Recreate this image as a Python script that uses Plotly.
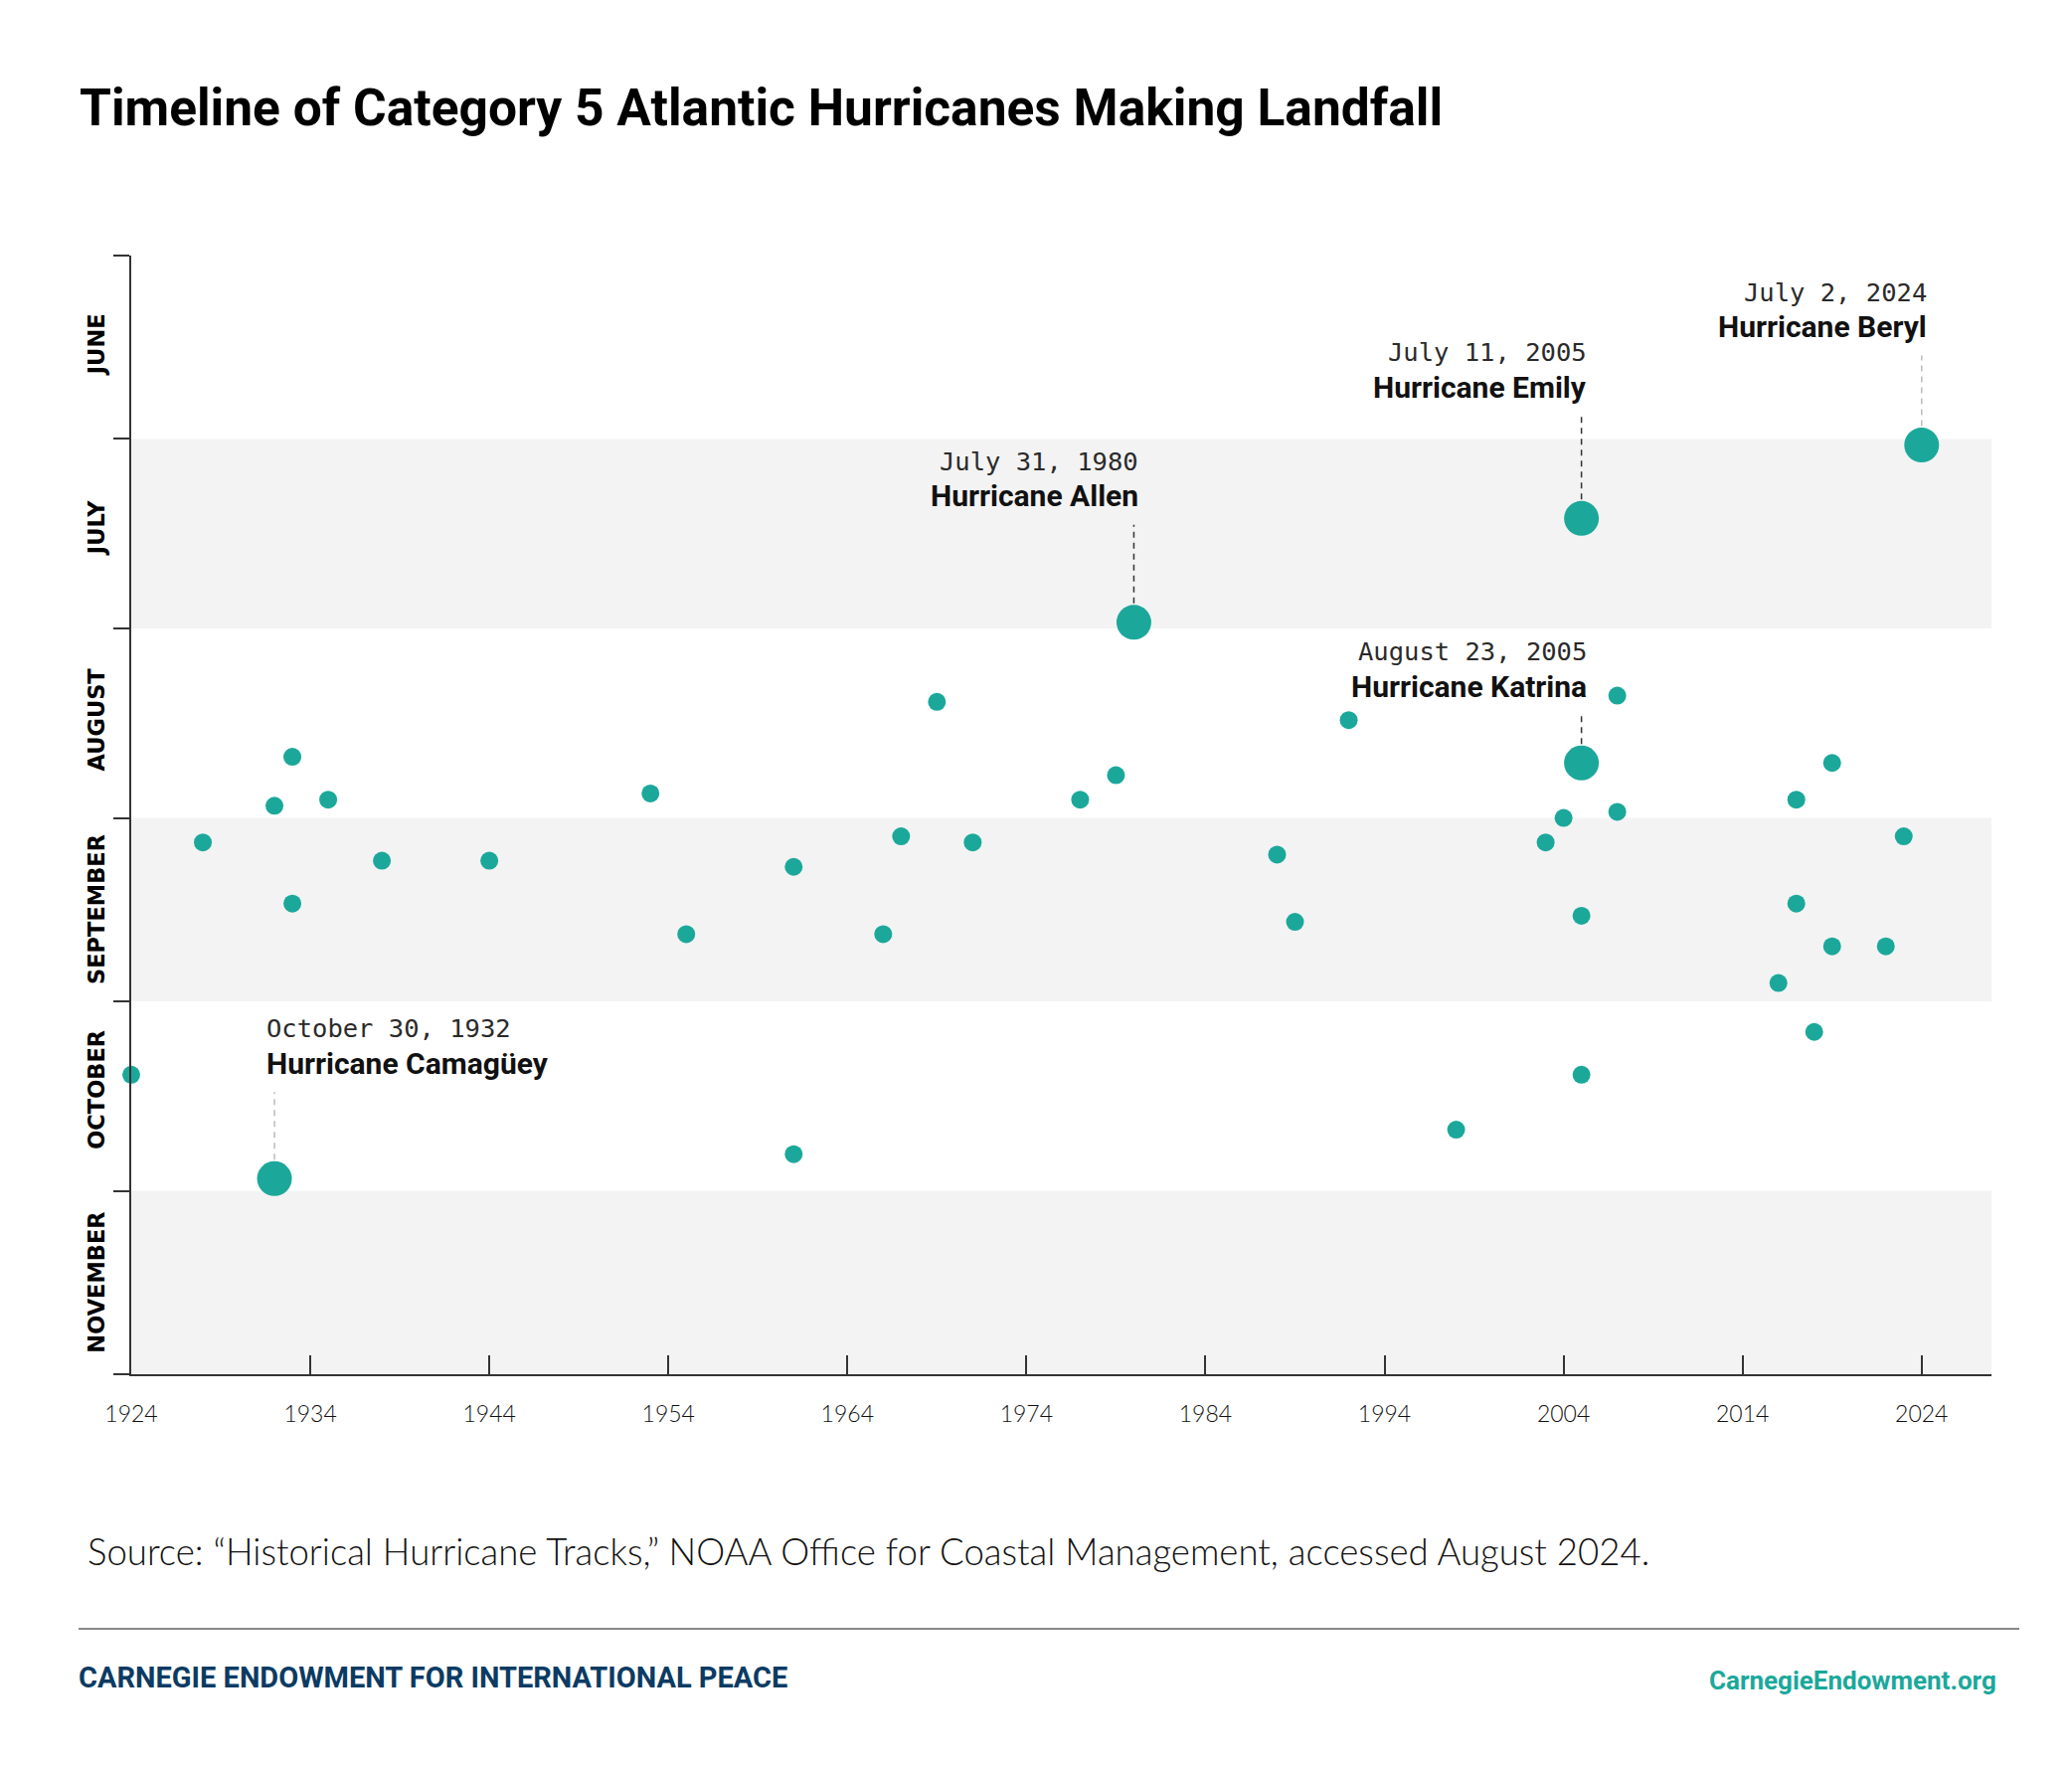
import plotly.graph_objects as go

# landfall year and day (month-day) of each Category 5 landfall
years = [1924, 1928, 1932, 1933, 1933, 1935, 1938, 1944, 1953, 1955, 1961, 1961,
         1966, 1967, 1969, 1971, 1977, 1979, 1988, 1989, 1992, 1998, 2003, 2004,
         2005, 2005, 2007, 2007, 2016, 2017, 2017, 2018, 2019, 2019, 2022, 2023]
days = ["10-13", "09-05", "08-30", "08-22", "09-15", "08-29", "09-08", "09-08",
        "08-28", "09-20", "09-09", "10-26", "09-20", "09-04", "08-13", "09-05",
        "08-29", "08-25", "09-07", "09-18", "08-16", "10-22", "09-05", "09-01",
        "09-17", "10-13", "08-12", "08-31", "09-28", "08-29", "09-15", "10-06",
        "08-23", "09-22", "09-22", "09-04"]

# highlighted storms
hl_years = [1932, 1980, 2005, 2005, 2024]
hl_days = ["10-30", "07-31", "07-14", "08-23", "07-02"]
hl_names = ["Hurricane Camagüey", "Hurricane Allen", "Hurricane Emily",
            "Hurricane Katrina", "Hurricane Beryl"]
hl_dates = ["October 30, 1932", "July 31, 1980", "July 11, 2005",
            "August 23, 2005", "July 2, 2024"]

months = ["06", "07", "08", "09", "10", "11", "12"]
shaded = ["07", "09", "11"]
year_ticks = list(range(1924, 2025, 10))

TEAL = "#1BA89B"
# page body has an 8px margin, so the figure is drawn 8px smaller
PAD = 8
W, H = 2084 - PAD, 1778 - PAD
L, R, T, B = 124, 81, 249, 396


def d(md):
    return "2001-" + md


def px(x):
    return (x - PAD - L) / (W - L - R)


def py(y):
    return (H - B - (y - PAD)) / (H - T - B)


fig = go.Figure()

fig.add_trace(go.Scatter(
    x=years, y=[d(v) for v in days], mode="markers",
    marker=dict(size=18, color=TEAL, line=dict(width=0)),
    cliponaxis=False, hoverinfo="skip", showlegend=False,
))
fig.add_trace(go.Scatter(
    x=hl_years, y=[d(v) for v in hl_days], mode="markers",
    marker=dict(size=35, color=TEAL, line=dict(width=0)),
    cliponaxis=False, hoverinfo="skip", showlegend=False,
))

# month bands
for i in range(len(months) - 1):
    if months[i] in shaded:
        fig.add_shape(type="rect", xref="x domain", yref="y", x0=0, x1=1,
                      y0=d(months[i] + "-01"), y1=d(months[i + 1] + "-01"),
                      fillcolor="#F3F3F3", line=dict(width=0), layer="below")

# labels for highlighted storms
side = ["left", "right", "right", "right", "right"]
gap = [105, 116, 121, 66, 108]
lead = ["#BBBBBB", "#333333", "#333333", "#333333", "#BBBBBB"]
for i in range(len(hl_years)):
    xs = -10 if side[i] == "left" else 7
    fig.add_annotation(x=hl_years[i], y=d(hl_days[i]), text=hl_names[i],
                       showarrow=False, xanchor=side[i], yanchor="middle",
                       xshift=xs, yshift=gap[i] + 11,
                       font=dict(family="Roboto", size=30,
                                 weight="bold", color="#111111"))
    fig.add_annotation(x=hl_years[i], y=d(hl_days[i]), text=hl_dates[i],
                       showarrow=False, xanchor=side[i], yanchor="middle",
                       xshift=xs, yshift=gap[i] + 46,
                       font=dict(family="DejaVu Sans Mono", size=25.5, color="#2A2A2A"))
    fig.add_shape(type="line", xref="x", yref="y", ysizemode="pixel",
                  yanchor=d(hl_days[i]), x0=hl_years[i], x1=hl_years[i],
                  y0=19, y1=gap[i] - 18,
                  line=dict(color=lead[i], width=1.5, dash="6px,5px"))

# title, source and footer
fig.add_annotation(xref="paper", yref="paper", x=px(78), y=py(108),
                   xanchor="left", yanchor="middle", showarrow=False,
                   text="Timeline of Category 5 Atlantic Hurricanes Making Landfall",
                   font=dict(family="Roboto", size=51.5,
                             weight="bold", color="#000000"))
fig.add_annotation(xref="paper", yref="paper", x=px(86), y=py(1560),
                   xanchor="left", yanchor="middle", showarrow=False,
                   text="Source: \u201cHistorical Hurricane Tracks,\u201d NOAA Office for Coastal Management, accessed August 2024.",
                   font=dict(family="Lato", size=36.6, weight=300, color="#111111"))
fig.add_shape(type="line", xref="paper", yref="paper", x0=px(79), x1=px(2031),
              y0=py(1638), y1=py(1638), line=dict(color="#888888", width=2))
fig.add_annotation(xref="paper", yref="paper", x=px(77), y=py(1687),
                   xanchor="left", yanchor="middle", showarrow=False,
                   text="CARNEGIE ENDOWMENT FOR INTERNATIONAL PEACE",
                   font=dict(family="Roboto", size=29,
                             weight="bold", color="#0B3B63"))
fig.add_annotation(xref="paper", yref="paper", x=px(2010), y=py(1690),
                   xanchor="right", yanchor="middle", showarrow=False,
                   text="CarnegieEndowment.org",
                   font=dict(family="Roboto", size=26,
                             weight="bold", color=TEAL))

fig.update_xaxes(
    range=[1924, 2027.9], tickvals=year_ticks, ticks="inside", ticklen=19,
    tickwidth=1.5, tickcolor="#333333", showline=True, linecolor="#333333",
    linewidth=2, showgrid=False, zeroline=False, ticklabelstandoff=18,
    tickfont=dict(family="Lato", size=23, weight=300, color="#111111"),
)
fig.update_yaxes(
    type="date", range=[d("12-01"), d("06-01")], dtick="M1", tick0=d("06-01"),
    tickformat="%B", ticklabelmode="period", tickangle=-90,
    ticks="outside", ticklen=16, tickwidth=1.5, tickcolor="#333333",
    showline=True, linecolor="#333333", linewidth=2, showgrid=False,
    zeroline=False, ticklabelstandoff=0,
    tickfont=dict(family="DejaVu Sans", size=22.5, weight="bold",
                  color="#000000", textcase="upper"),
)
fig.update_layout(
    width=W, height=H, margin=dict(l=L, r=R, t=T, b=B),
    paper_bgcolor="white", plot_bgcolor="white", showlegend=False,
)

fig.write_html("out.html")
